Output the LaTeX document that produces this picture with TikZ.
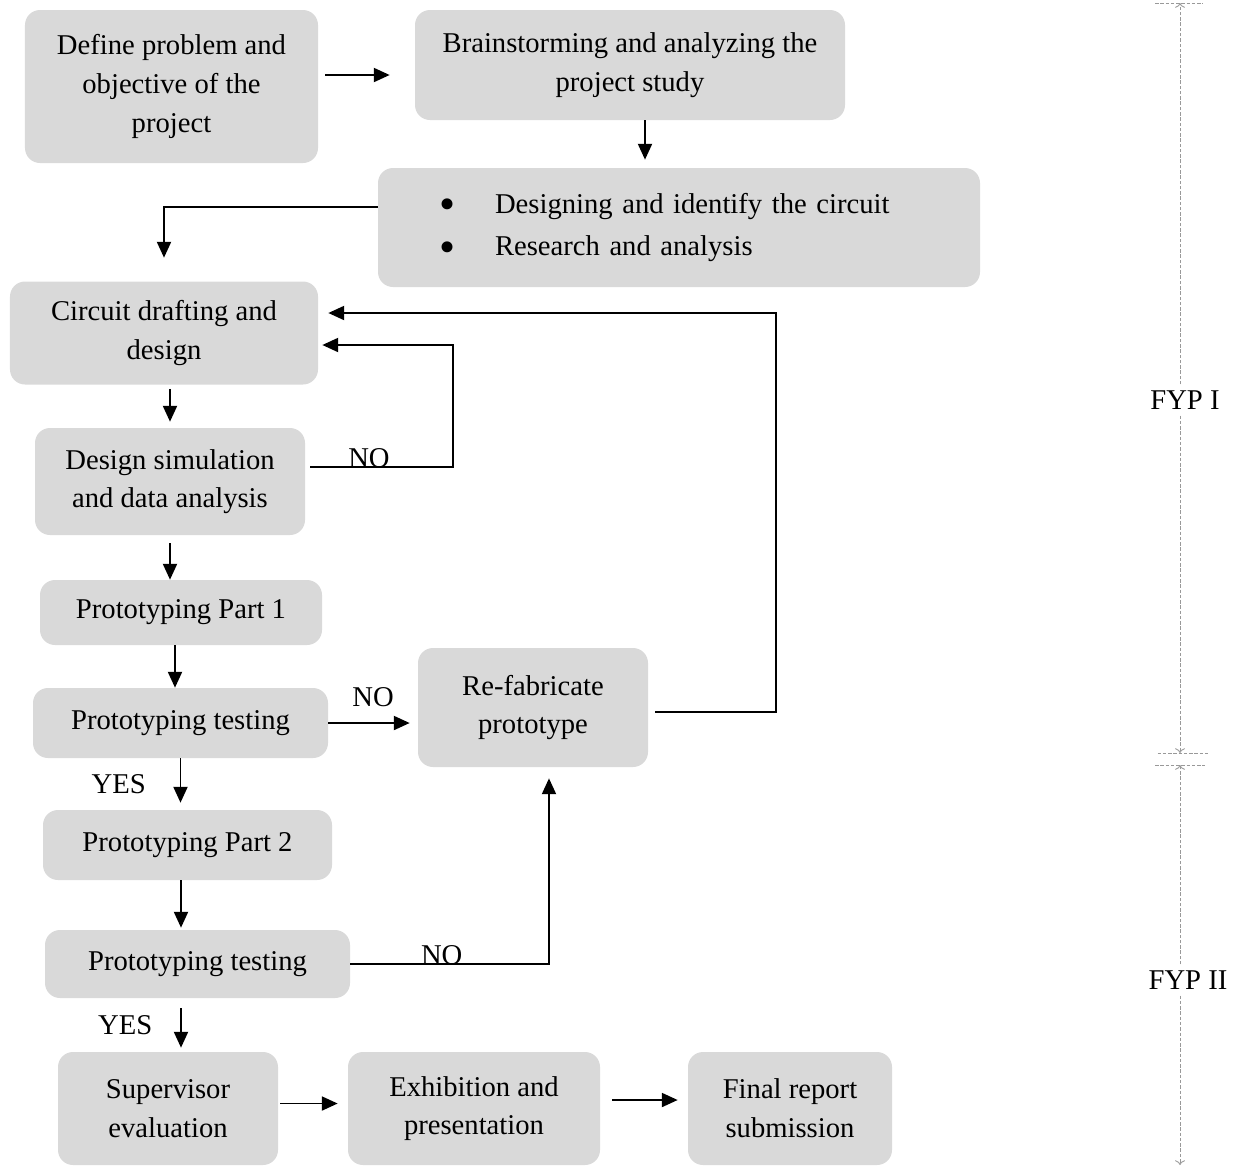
\documentclass[tikz,border=0pt]{standalone}
\usepackage{fontspec}
\usepackage{graphicx}
\setmainfont{Liberation Serif}
\usetikzlibrary{arrows.meta}

\newcommand{\bigdot}{\makebox[1.12cm][l]{\raisebox{-0.24em}{\scalebox{1.6}{\textbullet}}}}

\begin{document}
\begin{tikzpicture}[
    box/.style={shape=rectangle, rounded corners=0.3cm, fill=black!15, align=center, inner sep=0pt, font=\fontsize{16.3}{22}\selectfont},
    lbl/.style={font=\fontsize{16.3}{22}\selectfont},
    arr/.style={-{Triangle[length=9pt,width=8pt]}, line width=1pt},
    fyp/.style={gray!80, line width=0.5pt, dash pattern=on 2pt off 1pt}
]
    \useasboundingbox (0,0) rectangle (24.74,-23.34);

    %top row
    \node[box, minimum width=5.86cm, minimum height=3.06cm] (def) at (3.43,-1.73) {Define problem and\\objective of the\\project};
    \node[box, minimum width=8.6cm, minimum height=2.2cm] (brain) at (12.6,-1.3) {Brainstorming and analyzing the\\project study};
    \node[box, minimum width=12.04cm, minimum height=2.38cm, text width=12.04cm, align=left] (design) at (13.58,-4.55) {\hspace*{1.22cm}\mbox{\bigdot Designing and identify the circuit}\\[2pt]\hspace*{1.22cm}\mbox{\bigdot Research and analysis}};

    %design loop
    \node[box, minimum width=6.16cm, minimum height=2.06cm] (circ) at (3.28,-6.66) {Circuit drafting and\\design};
    \node[box, minimum width=5.4cm, minimum height=2.14cm] (sim) at (3.4,-9.63) {Design simulation\\and data analysis};

    %prototyping
    \node[box, minimum width=5.64cm, minimum height=1.3cm] (part1) at (3.62,-12.25) {Prototyping Part 1};
    \node[box, minimum width=5.9cm, minimum height=1.4cm] (test1) at (3.61,-14.46) {Prototyping testing};
    \node[box, minimum width=4.6cm, minimum height=2.38cm] (refab) at (10.66,-14.15) {Re-fabricate\\prototype};
    \node[box, minimum width=5.78cm, minimum height=1.4cm] (part2) at (3.75,-16.9) {Prototyping Part 2};
    \node[box, minimum width=6.1cm, minimum height=1.36cm] (test2) at (3.95,-19.28) {Prototyping testing};

    %bottom row
    \node[box, minimum width=4.4cm, minimum height=2.26cm] (sup) at (3.36,-22.17) {Supervisor\\evaluation};
    \node[box, minimum width=5.04cm, minimum height=2.26cm] (exh) at (9.48,-22.17) {Exhibition and\\presentation};
    \node[box, minimum width=4.08cm, minimum height=2.26cm] (fin) at (15.8,-22.17) {Final report\\submission};

    %FYP I / FYP II
    \node[lbl] (fypa) at (23.7,-8.0) {FYP I};
    \node[lbl] (fypb) at (23.76,-19.6) {FYP II};
    \coordinate (fypatop) at (23.6,-0.06);
    \coordinate (fypabot) at (23.6,-15.06);
    \coordinate (fypbtop) at (23.6,-15.3);
    \coordinate (fypbbot) at (23.6,-23.3);

    \draw[fyp, -{To}] (fypa.north -| fypatop) -- (fypatop);
    \draw[fyp, -{To}] (fypa.south -| fypatop) -- (fypabot);
    \draw[fyp, -{To}] (fypb.north -| fypbtop) -- (fypbtop);
    \draw[fyp, -{To}] (fypb.south -| fypbtop) -- (fypbbot);
    \draw[fyp] ([xshift=-0.5cm]fypatop) -- ([xshift=0.45cm]fypatop);
    \draw[fyp] ([xshift=-0.45cm]fypabot) -- ([xshift=0.55cm]fypabot);
    \draw[fyp] ([xshift=-0.5cm]fypbtop) -- ([xshift=0.5cm]fypbtop);

    %arrows
    \draw[arr, shorten <=0.14cm, shorten >=0.5cm] ([yshift=0.23cm]def.east) -- ([yshift=-0.2cm]brain.west);
    \draw[arr, shorten >=0.16cm] ([xshift=0.3cm]brain.south) -- ([xshift=0.3cm]brain.south |- design.north);
    \draw[arr, shorten >=0.47cm] ([yshift=0.41cm]design.west) -| (circ.north);
    \draw[arr, shorten <=0.08cm, shorten >=0.12cm] (circ.south -| sim.north) -- (sim.north);
    \draw[arr, shorten <=0.1cm, shorten >=0.08cm] ([yshift=0.29cm]sim.east) -- ++(2.96,0) node[lbl, pos=0.43, above=-0.145cm] {NO} |- ([yshift=-0.24cm]circ.east);
    \draw[arr, shorten <=0.14cm, shorten >=0.2cm] ([yshift=-0.09cm]refab.east) -- ++(2.56,0) |- ([yshift=0.4cm]circ.east);

    \draw[arr, shorten <=0.16cm] (sim.south) -- (sim.south |- part1.north);
    \draw[arr] ([xshift=-0.12cm]part1.south) -- ([xshift=-0.12cm]part1.south |- test1.north);
    \draw[arr, shorten >=0.16cm] (test1.east) -- (test1.east -| refab.west) node[lbl, midway, above=0.2cm] {NO};
    \draw[arr, shorten >=0.14cm] (test1.south) -- (test1.south |- part2.north) node[lbl, midway, left=0.56cm] {YES};
    \draw[arr, shorten >=0.04cm] ([xshift=-0.13cm]part2.south) -- ([xshift=-0.13cm]part2.south |- test2.north);
    \draw[arr, shorten >=0.22cm] (test2.east) -| ([xshift=0.32cm]refab.south) node[lbl, pos=0.23, above=-0.145cm] {NO};
    \draw[arr, shorten <=0.2cm, shorten >=0.08cm] ([xshift=-0.33cm]test2.south) -- ([xshift=-0.33cm]test2.south |- sup.north) node[lbl, midway, left=0.44cm] {YES};

    \draw[arr, shorten <=0.04cm, shorten >=0.2cm] ([yshift=0.1cm]sup.east) -- ([yshift=0.1cm]exh.west);
    \draw[arr, shorten <=0.24cm, shorten >=0.2cm] ([yshift=0.17cm]exh.east) -- ([yshift=0.17cm]fin.west);
\end{tikzpicture}
\end{document}
